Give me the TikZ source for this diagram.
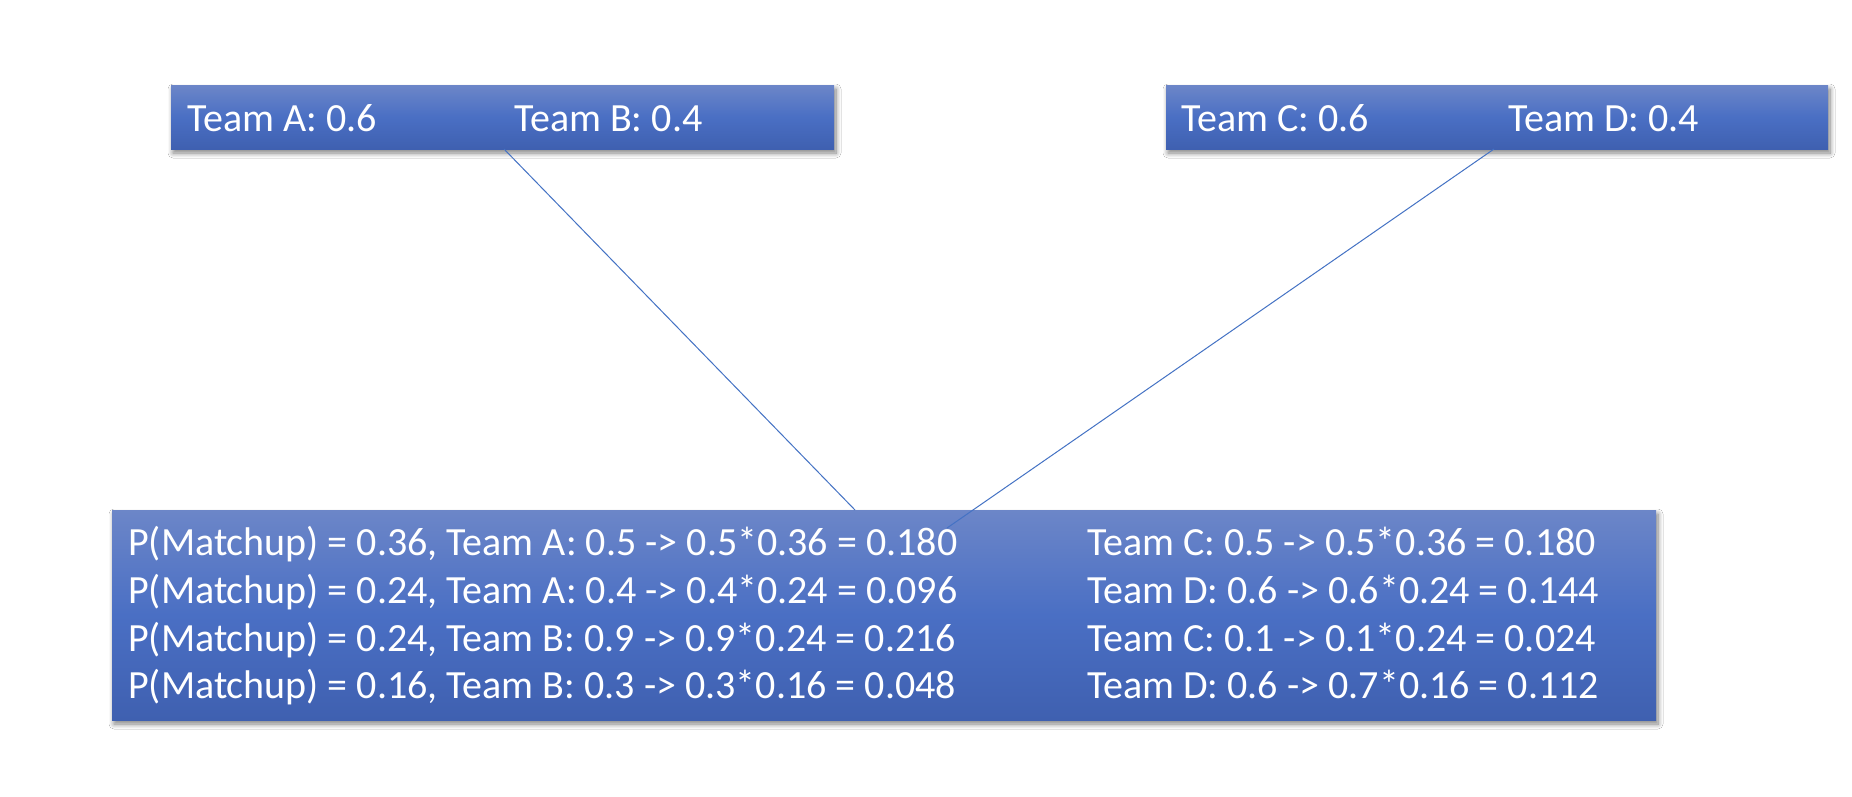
\documentclass[tikz,border=0pt]{standalone}
\usepackage{fontspec}
\setmainfont{Carlito}
\usetikzlibrary{shadows.blur}
\definecolor{boxtop}{RGB}{108,134,200}
\definecolor{boxmid}{RGB}{74,111,196}
\definecolor{boxbot}{RGB}{63,96,176}
\definecolor{linkblue}{RGB}{68,114,196}
\tikzset{
  panel/.style={draw=none, top color=boxtop, bottom color=boxbot, middle color=boxmid,
    blur shadow={shadow xshift=2pt, shadow yshift=-4pt, shadow blur steps=8, shadow blur radius=5pt, shadow opacity=50}},
  lbl/.style={anchor=base west, inner sep=0pt, text=white, font=\fontsize{40}{48}\selectfont},
  link/.style={draw=linkblue, line width=1pt}
}
\begin{document}
\begin{tikzpicture}[x=1pt, y=-1pt]
\useasboundingbox[fill=white] (0,0) rectangle (1852,796);
% boxes
\path[panel] (171,85) rectangle (834,149);
\path[panel] (1166,85) rectangle (1828,149);
\path[panel] (112,510) rectangle (1656,720);
\coordinate (abjoin) at (504,149);
\coordinate (cdjoin) at (1494,149);
\coordinate (mtop) at (855,510);
\coordinate (mend) at (947,528);
% probabilities of the first round
\node[lbl] (ta) at (187,131) {Team A: 0.6};
\node[lbl] (tb) at (514,131) {Team B: 0.4};
\node[lbl] (tc) at (1181,131) {Team C: 0.6};
\node[lbl] (td) at (1508,131) {Team D: 0.4};
% matchup rows
\node[lbl] (l1) at (128,555) {P(Matchup) = 0.36, Team A: 0.5 -> 0.5*0.36 = 0.180};
\node[lbl] (l2) at (128,603) {P(Matchup) = 0.24, Team A: 0.4 -> 0.4*0.24 = 0.096};
\node[lbl] (l3) at (128,651) {P(Matchup) = 0.24, Team B: 0.9 -> 0.9*0.24 = 0.216};
\node[lbl] (l4) at (128,698) {P(Matchup) = 0.16, Team B: 0.3 -> 0.3*0.16 = 0.048};
\node[lbl] (r1) at (1087,555) {Team C: 0.5 -> 0.5*0.36 = 0.180};
\node[lbl] (r2) at (1087,603) {Team D: 0.6 -> 0.6*0.24 = 0.144};
\node[lbl] (r3) at (1087,651) {Team C: 0.1 -> 0.1*0.24 = 0.024};
\node[lbl] (r4) at (1087,698) {Team D: 0.6 -> 0.7*0.16 = 0.112};
% connectors
\draw[link] (abjoin) -- (mtop);
\draw[link] (cdjoin) -- (mend);
\end{tikzpicture}
\end{document}
